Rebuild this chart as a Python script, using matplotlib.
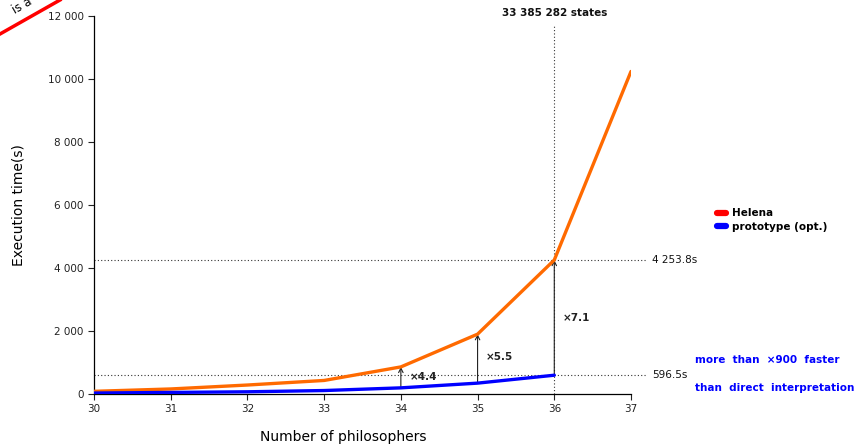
import matplotlib
matplotlib.use("Agg")
import matplotlib.pyplot as plt
from matplotlib.lines import Line2D
from matplotlib.ticker import FuncFormatter

philosophers = [30, 31, 32, 33, 34, 35, 36, 37]
helena = [85, 160, 285, 430, 860, 1900, 4253.8, 10240]
prototype = [30, 50, 70, 110, 195, 345, 596.5]
speedups = ["4.4", "5.5", "7.1"]
speedup_at = [34, 35, 36]
states_label = "33 385 282 states"

ORANGE = "#ff6a00"
BLUE = "#0000ff"
RED = "#ff0000"

plt.rcParams["font.family"] = ["DejaVu Sans"]
fig = plt.figure(figsize=(8.6, 4.45), dpi=100)
ax = fig.add_axes([94 / 860, 1 - 394 / 445, (631 - 94) / 860, (394 - 16) / 445])

ax.plot(philosophers, helena, color=ORANGE, lw=2.4, solid_capstyle="round", zorder=3)
ax.plot(philosophers[:len(prototype)], prototype, color=BLUE, lw=2.4,
        solid_capstyle="round", zorder=3)

ax.set_xlim(30, 37)
ax.set_ylim(0, 12000)
ax.set_xticks(philosophers)
ax.set_yticks(range(0, 12001, 2000))
ax.yaxis.set_major_formatter(FuncFormatter(lambda v, p: f"{int(v):,}".replace(",", " ")))
ax.tick_params(labelsize=7.5, length=4, width=0.8, colors="#222222")
for s in ("top", "right"):
    ax.spines[s].set_visible(False)
for s in ("left", "bottom"):
    ax.spines[s].set_linewidth(0.9)

# reference levels at 36 philosophers
i36 = philosophers.index(36)
for val, txt in [(helena[i36], "4 253.8s"), (prototype[i36], "596.5s")]:
    ax.plot([30, 37.2], [val, val], ls=(0, (1, 2)), color="#333333", lw=0.8,
            clip_on=False, zorder=1)
    ax.text(37.28, val, txt, fontsize=7.5, va="center", ha="left", color="#111111")

ax.plot([36, 36], [0, 11700], ls=(0, (1, 2)), color="#333333", lw=0.8, zorder=1)
ax.text(36, 12100, states_label, fontsize=7.5, ha="center", va="center",
        fontweight="bold", color="#111111", clip_on=False)

# speedup arrows
label_y = [540, 1175, 2400]
for x, s, ly in zip(speedup_at, speedups, label_y):
    i = philosophers.index(x)
    ax.annotate("", xy=(x, helena[i]), xytext=(x, prototype[i]),
                arrowprops=dict(arrowstyle="->", color="#222222", lw=0.8,
                                mutation_scale=8, shrinkA=0, shrinkB=0), zorder=2)
    ax.text(x + 0.11, ly, "\u00d7" + s, fontsize=7.5, ha="left", va="center",
            fontweight="bold", color="#222222")

ax.set_ylabel("Execution time(s)", fontsize=10)
ax.yaxis.set_label_coords(-0.128, 0.5)
fig.text(343 / 860, 1 - 437 / 445, "Number of philosophers", fontsize=10,
         ha="center", va="center")

handles = [Line2D([], [], color=RED, lw=4.5, solid_capstyle="round"),
           Line2D([], [], color=BLUE, lw=4.5, solid_capstyle="round")]
fig.legend(handles, ["Helena", "prototype (opt.)"], loc="center left",
           bbox_to_anchor=(708 / 860, 1 - 220 / 445), frameon=False,
           handlelength=0.8, handletextpad=0.6, labelspacing=0.3,
           prop={"weight": "bold", "size": 7.5})

fig.text(695 / 860, 1 - 360 / 445, "more  than  \u00d7900  faster", color=BLUE,
         fontsize=7.5, fontweight="bold", ha="left", va="center")
fig.text(695 / 860, 1 - 388 / 445, "than  direct  interpretation", color=BLUE,
         fontsize=7.5, fontweight="bold", ha="left", va="center")

# corner banner
fig.add_artist(Line2D([0, 60 / 860], [1 - 34 / 445, 1.0], color=RED, lw=2.5,
                      transform=fig.transFigure))
fig.text(22 / 860, 1 - 6 / 445, "is a", rotation=30, fontsize=8.5,
         ha="center", va="center", rotation_mode="anchor")

fig.savefig("out.png", dpi=100)
